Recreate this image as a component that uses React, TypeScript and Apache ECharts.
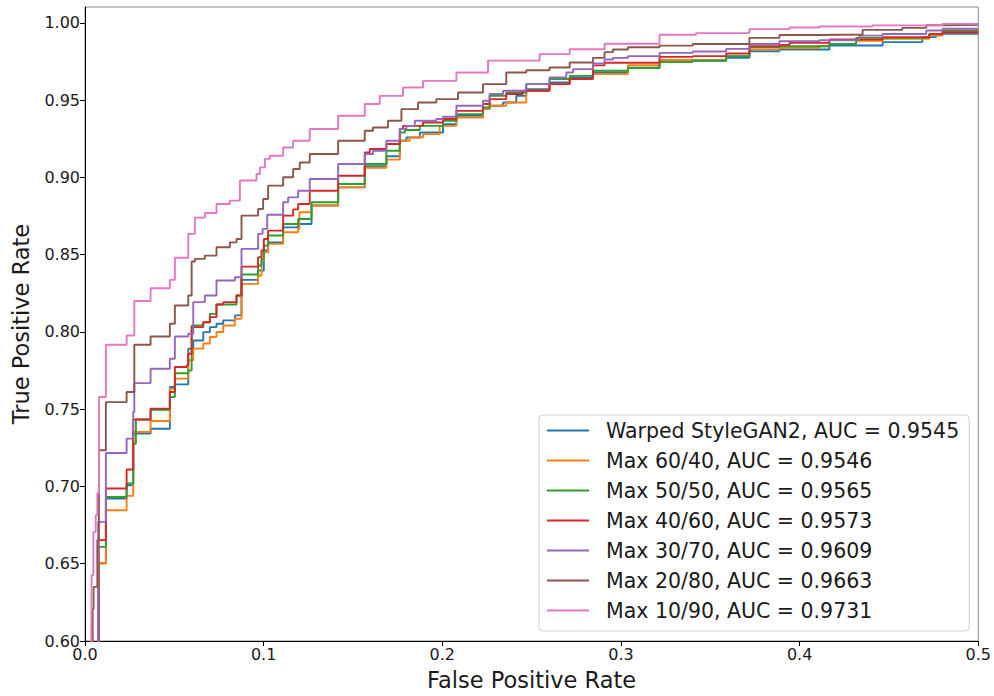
import React, { useEffect, useRef } from "react";
import * as echarts from "echarts";

const seriesNames: string[] = [
  "Warped StyleGAN2, AUC = 0.9545",
  "Max 60/40, AUC = 0.9546",
  "Max 50/50, AUC = 0.9565",
  "Max 40/60, AUC = 0.9573",
  "Max 30/70, AUC = 0.9609",
  "Max 20/80, AUC = 0.9663",
  "Max 10/90, AUC = 0.9731",
];

const colors: string[] = ["#1f77b4", "#ff7f0e", "#2ca02c", "#d62728", "#9467bd", "#8c564b", "#e377c2"];

// ROC step points: [false positive rate where the step happens, true positive rate after the step]
const warped: number[][] = [
  [0, 0], [0.0076, 0.6504], [0.0117, 0.6922], [0.0233, 0.7008], [0.027, 0.7342], [0.0367, 0.7374],
  [0.0475, 0.7644], [0.0503, 0.7661], [0.0578, 0.7892], [0.0606, 0.7945], [0.0662, 0.7999], [0.0699, 0.8031],
  [0.0736, 0.8053], [0.0774, 0.8075], [0.0839, 0.8107], [0.0876, 0.8337], [0.0969, 0.8397], [0.1001, 0.8527],
  [0.1025, 0.858], [0.1109, 0.8677], [0.1193, 0.8699], [0.1268, 0.8818], [0.1417, 0.8936], [0.1566, 0.9073],
  [0.1687, 0.9137], [0.1762, 0.9237], [0.1799, 0.9258], [0.1874, 0.9291], [0.2004, 0.9345], [0.2079, 0.9399],
  [0.2228, 0.9442], [0.2265, 0.9464], [0.234, 0.9485], [0.2414, 0.9528], [0.247, 0.9571], [0.26, 0.9614],
  [0.2713, 0.9647], [0.2843, 0.9679], [0.3039, 0.971], [0.3216, 0.9755], [0.3589, 0.9775], [0.3719, 0.9817],
  [0.3887, 0.9828], [0.4167, 0.9854], [0.4465, 0.9876], [0.4687, 0.9908], [0.4763, 0.9922], [0.48, 0.9929],
  [0.5, 0.9929],
];

const max6040: number[][] = [
  [0, 0], [0.0078, 0.6502], [0.0117, 0.6846], [0.0233, 0.6939], [0.027, 0.7353], [0.0367, 0.7424],
  [0.0475, 0.7633], [0.0503, 0.7698], [0.0578, 0.7816], [0.0606, 0.7892], [0.0662, 0.7925], [0.0699, 0.7967],
  [0.0736, 0.8], [0.0774, 0.8042], [0.0839, 0.8085], [0.0876, 0.8311], [0.0969, 0.8365], [0.0988, 0.8462],
  [0.1001, 0.8516], [0.1025, 0.857], [0.1109, 0.8645], [0.1193, 0.8667], [0.12, 0.8775], [0.1268, 0.8818],
  [0.1417, 0.8936], [0.1566, 0.9063], [0.1687, 0.9115], [0.1762, 0.9237], [0.1818, 0.9258], [0.1892, 0.928],
  [0.1985, 0.9334], [0.2079, 0.9388], [0.2228, 0.9442], [0.2265, 0.9464], [0.2358, 0.9485], [0.247, 0.9561],
  [0.26, 0.9604], [0.2713, 0.9637], [0.2843, 0.9669], [0.3039, 0.9726], [0.3216, 0.976], [0.3589, 0.9785],
  [0.3719, 0.9828], [0.3887, 0.9838], [0.4111, 0.9849], [0.4167, 0.9864], [0.4316, 0.9885], [0.4465, 0.9897],
  [0.4726, 0.9918], [0.48, 0.994], [0.5, 0.994],
];

const max5050: number[][] = [
  [0, 0], [0.0076, 0.6609], [0.0117, 0.6932], [0.0233, 0.7019], [0.027, 0.7277], [0.0285, 0.7433],
  [0.0367, 0.7497], [0.0475, 0.7579], [0.0503, 0.7733], [0.0578, 0.7751], [0.0597, 0.8042], [0.0662, 0.8063],
  [0.0699, 0.8117], [0.0736, 0.8178], [0.0848, 0.8236], [0.0876, 0.8372], [0.0969, 0.843], [0.0988, 0.8473],
  [0.1001, 0.8559], [0.1025, 0.8624], [0.1109, 0.8699], [0.1193, 0.8731], [0.1268, 0.8839], [0.1417, 0.8958],
  [0.1566, 0.9087], [0.1687, 0.9173], [0.1762, 0.9291], [0.179, 0.9307], [0.1874, 0.9334], [0.2004, 0.9367],
  [0.2079, 0.941], [0.2228, 0.9453], [0.2265, 0.9528], [0.2358, 0.955], [0.247, 0.9604], [0.26, 0.9637],
  [0.2713, 0.9657], [0.2843, 0.969], [0.3039, 0.9708], [0.3216, 0.9746], [0.3402, 0.9756], [0.3589, 0.9785],
  [0.3719, 0.9843], [0.3887, 0.9849], [0.4167, 0.9864], [0.4316, 0.9903], [0.4726, 0.9929], [0.48, 0.9951],
  [0.5, 0.9951],
];

const max4060: number[][] = [
  [0, 0], [0.0076, 0.6653], [0.0117, 0.6987], [0.0233, 0.711], [0.027, 0.7433], [0.0367, 0.7504],
  [0.0475, 0.7611], [0.0503, 0.7773], [0.0569, 0.7784], [0.0578, 0.7859], [0.0597, 0.8031], [0.0662, 0.8063],
  [0.0699, 0.8096], [0.0736, 0.8178], [0.0774, 0.8193], [0.0848, 0.8236], [0.0876, 0.8423], [0.0969, 0.8483],
  [0.0988, 0.8527], [0.1001, 0.8602], [0.1025, 0.8656], [0.1109, 0.8753], [0.1165, 0.8793], [0.1193, 0.8828],
  [0.1258, 0.8914], [0.1417, 0.9011], [0.1566, 0.9162], [0.1594, 0.9184], [0.1687, 0.9216], [0.1762, 0.9313],
  [0.178, 0.9334], [0.1892, 0.9356], [0.2004, 0.9378], [0.2079, 0.9431], [0.2228, 0.9475], [0.2265, 0.9507],
  [0.2358, 0.954], [0.2451, 0.9561], [0.26, 0.9604], [0.2713, 0.9637], [0.2843, 0.9725], [0.2908, 0.9742],
  [0.3216, 0.978], [0.3402, 0.9785], [0.3589, 0.9802], [0.3719, 0.9849], [0.3887, 0.9858], [0.3943, 0.9871],
  [0.4167, 0.9893], [0.4465, 0.9908], [0.4726, 0.9929], [0.48, 0.994], [0.5, 0.994],
];

const max3070: number[][] = [
  [0, 0], [0.0074, 0.6771], [0.0117, 0.7217], [0.0233, 0.731], [0.027, 0.7482], [0.0276, 0.7669],
  [0.0367, 0.7762], [0.0475, 0.7827], [0.0503, 0.7971], [0.0578, 0.7988], [0.0606, 0.8193], [0.0671, 0.8236],
  [0.0736, 0.8333], [0.0839, 0.8354], [0.0876, 0.8538], [0.0969, 0.8635], [0.0994, 0.8667], [0.102, 0.8759],
  [0.1109, 0.8839], [0.1137, 0.8871], [0.1193, 0.8914], [0.1258, 0.899], [0.1417, 0.9087], [0.1566, 0.9152],
  [0.1612, 0.9173], [0.1687, 0.9237], [0.1762, 0.9313], [0.1799, 0.9334], [0.1846, 0.9367], [0.1967, 0.9378],
  [0.2004, 0.9393], [0.2079, 0.9464], [0.2228, 0.9496], [0.2265, 0.954], [0.234, 0.9561], [0.247, 0.9604],
  [0.26, 0.9647], [0.2694, 0.9679], [0.2732, 0.9701], [0.2843, 0.9738], [0.2908, 0.9763], [0.2955, 0.9774],
  [0.3039, 0.9785], [0.3216, 0.9806], [0.3402, 0.9815], [0.3589, 0.9832], [0.3719, 0.9864], [0.3887, 0.9881],
  [0.4111, 0.9888], [0.4334, 0.9918], [0.4465, 0.9928], [0.4709, 0.9951], [0.48, 0.9962], [0.5, 0.9962],
];

const max2080: number[][] = [
  [0, 0], [0.0043, 0.6205], [0.0048, 0.635], [0.0069, 0.6653], [0.0078, 0.7234], [0.0117, 0.7546],
  [0.0233, 0.7611], [0.0276, 0.7917], [0.0367, 0.7971], [0.0475, 0.8053], [0.0503, 0.8171], [0.0578, 0.8236],
  [0.0597, 0.8456], [0.0615, 0.8473], [0.0671, 0.8494], [0.0736, 0.8548], [0.0811, 0.858], [0.0848, 0.8602],
  [0.0876, 0.8753], [0.0969, 0.8796], [0.0997, 0.886], [0.1025, 0.8947], [0.1109, 0.9001], [0.1165, 0.9055],
  [0.1202, 0.9097], [0.1258, 0.9152], [0.1417, 0.9237], [0.1566, 0.9302], [0.1612, 0.9323], [0.1696, 0.9367],
  [0.1771, 0.9442], [0.1864, 0.9485], [0.1967, 0.9507], [0.2088, 0.955], [0.2228, 0.9604], [0.2358, 0.9679],
  [0.247, 0.9694], [0.26, 0.9711], [0.2713, 0.9744], [0.2843, 0.9774], [0.2908, 0.9811], [0.2955, 0.9828],
  [0.3039, 0.9843], [0.3216, 0.9853], [0.3402, 0.9864], [0.3719, 0.9903], [0.3887, 0.9922], [0.4111, 0.9925],
  [0.4353, 0.9955], [0.4575, 0.9968], [0.4709, 0.9985], [0.48, 0.9988], [0.5, 0.9988],
];

const max1090: number[][] = [
  [0, 0], [0.0035, 0.6], [0.0037, 0.6426], [0.0047, 0.6706], [0.006, 0.6814], [0.0069, 0.6956],
  [0.0078, 0.7579], [0.0117, 0.7917], [0.0233, 0.7977], [0.0276, 0.82], [0.0367, 0.8283], [0.0475, 0.8337],
  [0.0503, 0.848], [0.0578, 0.8635], [0.0615, 0.874], [0.0671, 0.877], [0.0736, 0.8828], [0.0811, 0.885],
  [0.0867, 0.898], [0.096, 0.9022], [0.0979, 0.9065], [0.1007, 0.912], [0.1035, 0.914], [0.1109, 0.9194],
  [0.1165, 0.9237], [0.1258, 0.9313], [0.1417, 0.9399], [0.1566, 0.9475], [0.165, 0.9528], [0.178, 0.9582],
  [0.1892, 0.9625], [0.2079, 0.9679], [0.2256, 0.9756], [0.2545, 0.9798], [0.2713, 0.983], [0.2908, 0.9865],
  [0.3216, 0.9923], [0.342, 0.9934], [0.3719, 0.996], [0.3943, 0.997], [0.4111, 0.9977], [0.4407, 0.9984],
  [0.48, 0.9994], [0.5, 0.9994],
];

const seriesData: number[][][] = [warped, max6040, max5050, max4060, max3070, max2080, max1090];

const xTicks: number[] = [0, 0.1, 0.2, 0.3, 0.4, 0.5];
const yTicks: number[] = [0.6, 0.65, 0.7, 0.75, 0.8, 0.85, 0.9, 0.95, 1.0];

const FONT = "DejaVu Sans";

export default function App() {
  const ref = useRef<HTMLDivElement>(null);

  useEffect(() => {
    if (!ref.current) return;
    const chart = echarts.init(ref.current, undefined, { renderer: "svg" });
    const isTick = (v: number, ticks: number[]) => ticks.some((t) => Math.abs(t - v) < 1e-6);
    chart.setOption({
      animation: false,
      backgroundColor: "#ffffff",
      textStyle: { fontFamily: FONT },
      grid: {
        left: 85,
        right: 15,
        top: 7,
        bottom: 55,
        show: true,
        borderColor: "#8a8a8a",
        borderWidth: 1,
        backgroundColor: "transparent",
      },
      legend: {
        orient: "vertical",
        left: 539,
        top: 415,
        width: 429,
        padding: [5, 10, 10, 8],
        itemGap: 9,
        itemWidth: 42,
        itemHeight: 2,
        icon: "rect",
        backgroundColor: "rgba(255,255,255,0.85)",
        borderColor: "#d0d0d0",
        borderWidth: 1,
        borderRadius: 4,
        data: seriesNames,
        textStyle: {
          fontFamily: FONT,
          fontSize: 20.5,
          color: "#1a1a1a",
          lineHeight: 20,
          padding: [0, 0, 0, 12],
        },
      },
      xAxis: {
        type: "value",
        min: 0,
        max: 0.5,
        interval: 0.1,
        name: "False Positive Rate",
        nameLocation: "middle",
        nameGap: 27,
        nameTextStyle: { fontFamily: FONT, fontSize: 22.5, color: "#1a1a1a" },
        axisLine: { show: true, onZero: false, lineStyle: { color: "#000", width: 1 } },
        axisTick: { show: true, length: 5, lineStyle: { color: "#000", width: 1 } },
        axisLabel: {
          fontFamily: FONT,
          fontSize: 16,
          color: "#1a1a1a",
          margin: 5,
          formatter: (v: number) => (isTick(v, xTicks) ? v.toFixed(1) : ""),
        },
        splitLine: { show: false },
      },
      yAxis: {
        type: "value",
        min: 0.6,
        max: 1.0103,
        interval: 0.05,
        name: "True Positive Rate",
        nameLocation: "middle",
        nameGap: 53,
        nameTextStyle: { fontFamily: FONT, fontSize: 22.5, color: "#1a1a1a" },
        axisLine: { show: true, onZero: false, lineStyle: { color: "#000", width: 1 } },
        axisTick: { show: true, length: 5, lineStyle: { color: "#000", width: 1 } },
        axisLabel: {
          fontFamily: FONT,
          fontSize: 16,
          color: "#1a1a1a",
          margin: 5,
          showMaxLabel: false,
          formatter: (v: number) => (isTick(v, yTicks) ? v.toFixed(2) : ""),
        },
        splitLine: { show: false },
      },
      series: seriesNames.map((name, i) => ({
        name,
        type: "line",
        step: "end",
        data: seriesData[i],
        showSymbol: false,
        symbol: "none",
        clip: true,
        color: colors[i],
        lineStyle: { color: colors[i], width: 1.9 },
        itemStyle: { color: colors[i] },
        z: 2 + i,
      })),
    });
    return () => chart.dispose();
  }, []);

  return <div ref={ref} style={{ width: 994, height: 696, position: "absolute", left: 0, top: 0 }} />;
}
